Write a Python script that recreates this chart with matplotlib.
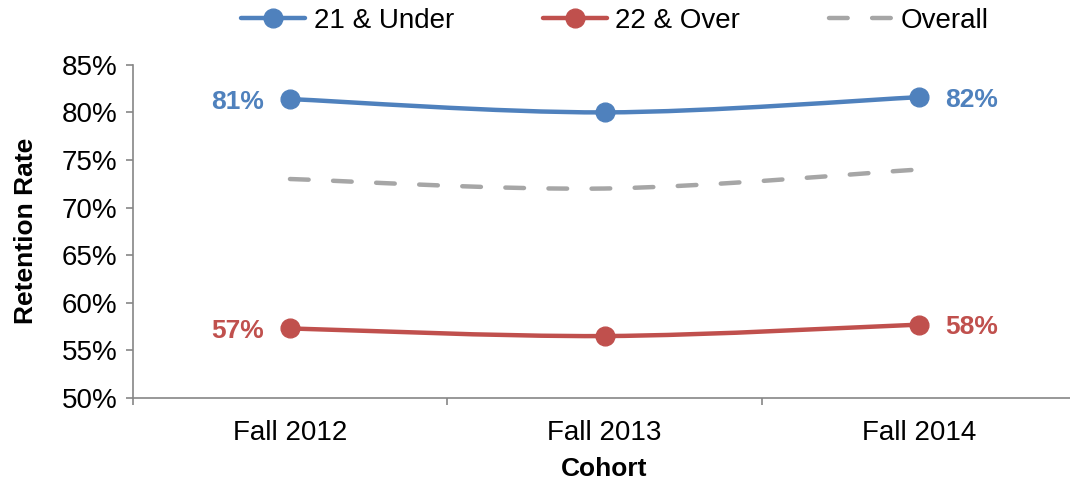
import matplotlib
matplotlib.use('Agg')
import matplotlib.pyplot as plt
from matplotlib.path import Path
from matplotlib.patches import PathPatch
from matplotlib.lines import Line2D
from matplotlib.ticker import PercentFormatter

cohorts = ['Fall 2012', 'Fall 2013', 'Fall 2014']
under21 = [81.4, 80.0, 81.6]
over22 = [57.3, 56.5, 57.7]
overall = [73.0, 72.0, 74.0]

blue = '#4F81BD'
red = '#C0504D'
gray = '#A6A6A6'

plt.rcParams['font.family'] = ['Liberation Sans', 'DejaVu Sans']


def smooth_path(xs, ys):
    # excel-like smoothed line: bezier segments through the points
    pts = list(zip(xs, ys))
    n = len(pts)
    verts = [pts[0]]
    codes = [Path.MOVETO]
    for i in range(n - 1):
        p0 = pts[max(i - 1, 0)]
        p1 = pts[i]
        p2 = pts[i + 1]
        p3 = pts[min(i + 2, n - 1)]
        c1 = (p1[0] + (p2[0] - p0[0]) / 6, p1[1] + (p2[1] - p0[1]) / 6)
        c2 = (p2[0] - (p3[0] - p1[0]) / 6, p2[1] - (p3[1] - p1[1]) / 6)
        verts += [c1, c2, p2]
        codes += [Path.CURVE4] * 3
    return Path(verts, codes)


fig = plt.figure(figsize=(10.7, 4.8), dpi=100)
ax = fig.add_axes([0.124, 0.171, 0.882, 0.694])

x = list(range(len(cohorts)))
lw = 3.2
fs = 20
dash = (0, (4.2, 5.5))

ax.add_patch(PathPatch(smooth_path(x, under21), fill=False, edgecolor=blue,
                       lw=lw, capstyle='round', zorder=3))
ax.add_patch(PathPatch(smooth_path(x, over22), fill=False, edgecolor=red,
                       lw=lw, capstyle='round', zorder=3))
ax.add_patch(PathPatch(smooth_path(x, overall), fill=False, edgecolor=gray,
                       lw=lw, capstyle='round', linestyle=dash, zorder=2))

ax.plot(x, under21, 'o', color=blue, ms=13.5, zorder=4)
ax.plot(x, over22, 'o', color=red, ms=13.5, zorder=4)

# labels on the end points
for vals, col in [(under21, blue), (over22, red)]:
    ax.annotate(f'{vals[0]:.0f}%', (x[0], vals[0]), xytext=(-19, 0),
                textcoords='offset points', ha='right', va='center_baseline',
                color=col, fontsize=19, fontweight='bold')
    ax.annotate(f'{vals[-1]:.0f}%', (x[-1], vals[-1]), xytext=(19, 0),
                textcoords='offset points', ha='left', va='center_baseline',
                color=col, fontsize=19, fontweight='bold')

ax.set_xlim(-0.5, 2.5)
ax.set_ylim(50, 85)
ax.set_yticks(range(50, 86, 5))
ax.yaxis.set_major_formatter(PercentFormatter(decimals=0))
ax.set_xticks(x)
ax.set_xticklabels(cohorts)
ax.set_xticks([-0.5, 0.5, 1.5, 2.5], minor=True)
ax.tick_params(axis='x', which='major', length=0, pad=16, labelsize=fs)
ax.tick_params(axis='x', which='minor', length=5, color='#868686', width=1.2)
ax.tick_params(axis='y', length=5, color='#868686', width=1.2, labelsize=fs, pad=6)

for s in ['top', 'right']:
    ax.spines[s].set_visible(False)
for s in ['left', 'bottom']:
    ax.spines[s].set_color('#868686')
    ax.spines[s].set_linewidth(1.2)

ax.set_xlabel('Cohort', fontsize=19, fontweight='bold', labelpad=8)
ax.set_ylabel('Retention Rate', fontsize=19, fontweight='bold', labelpad=17)

handles = [
    Line2D([], [], color=blue, lw=lw, marker='o', ms=13.5, solid_capstyle='round'),
    Line2D([], [], color=red, lw=lw, marker='o', ms=13.5, solid_capstyle='round'),
    Line2D([], [], color=gray, lw=lw, dash_capstyle='round', linestyle=dash),
]
fig.legend(handles, ['21 & Under', '22 & Over', 'Overall'], loc='center',
           bbox_to_anchor=(0.575, 0.957), ncol=3, frameon=False, fontsize=fs,
           handlelength=2.3, handletextpad=0.3, columnspacing=3.2)

fig.savefig('out.png', dpi=100)
